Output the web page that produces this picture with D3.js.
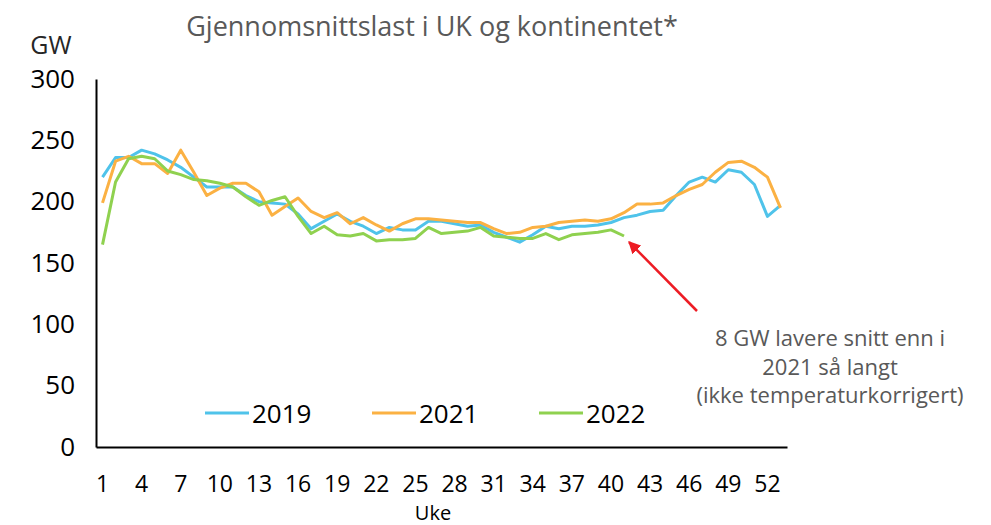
<!DOCTYPE html>
<html>
<head>
<meta charset="utf-8">
<script src="https://cdn.jsdelivr.net/npm/d3@7"></script>
<style>
    body { margin: 0; background: #fff; }
    svg { display: block; font-family: "Open Sans", "Noto Sans", sans-serif; }
</style>
</head>
<body>
<svg id="chart"></svg>
<script>
// Weeks 1..53
const weeks = d3.range(1, 54);
const tickWeeks = [1, 4, 7, 10, 13, 16, 19, 22, 25, 28, 31, 34, 37, 40, 43, 46, 49, 52];
const yTicks = [0, 50, 100, 150, 200, 250, 300];

const load2019 = [220, 236, 236, 242, 239, 234, 228, 220, 212, 212, 212, 205, 200, 199, 198, 190,
    178, 184, 190, 184, 180, 174, 179, 177, 177, 184, 184, 182, 180, 181, 175, 171, 167, 173, 180,
    178, 180, 180, 181, 183, 187, 189, 192, 193, 205, 216, 220, 216, 226, 224, 214, 188, 197];
const load2021 = [199, 233, 237, 231, 231, 223, 242, 224, 205, 211, 215, 215, 208, 189, 196, 203,
    192, 187, 191, 182, 187, 181, 176, 182, 186, 186, 185, 184, 183, 183, 178, 174, 175, 179, 180,
    183, 184, 185, 184, 186, 191, 198, 198, 199, 205, 210, 214, 224, 232, 233, 228, 220, 195];
const load2022 = [165, 216, 235, 237, 235, 225, 222, 218, 217, 215, 212, 204, 197, 201, 204, 188,
    174, 180, 173, 172, 174, 168, 169, 169, 170, 179, 174, 175, 176, 179, 172, 171, 170, 170, 174,
    169, 173, 174, 175, 177, 172];

const series = [
    { name: "2019", values: load2019, color: "#4fc3ea" },
    { name: "2021", values: load2021, color: "#fbb143" },
    { name: "2022", values: load2022, color: "#8fd14f" }
];

const width = 991, height = 525;
const margin = { left: 96, right: 204, top: 79, bottom: 78 };
const svg = d3.select("#chart").attr("width", width).attr("height", height);

const x = d3.scaleBand().domain(weeks).range([margin.left, width - margin.right]);
const y = d3.scaleLinear().domain([0, 300]).range([height - margin.bottom, margin.top]);
const cx = w => x(w) + x.bandwidth() / 2;

// Title
svg.append("text")
    .attr("x", 432).attr("y", 36)
    .attr("text-anchor", "middle")
    .attr("fill", "#595959")
    .attr("font-size", "27px")
    .text("Gjennomsnittslast i UK og kontinentet*");

// Unit label
svg.append("text")
    .attr("x", 51).attr("y", 54)
    .attr("text-anchor", "middle")
    .attr("fill", "#262626")
    .attr("font-size", "25px")
    .text("GW");

// Y axis
const yAxis = svg.append("g")
    .attr("transform", `translate(${margin.left},0)`)
    .call(d3.axisLeft(y).tickValues(yTicks).tickSize(0).tickPadding(21));
yAxis.select(".domain").attr("stroke", "#000").attr("stroke-width", 2);
yAxis.selectAll("text").attr("font-size", "26px").attr("fill", "#000").attr("font-family", "Open Sans");

// X axis
const xAxis = svg.append("g")
    .attr("transform", `translate(0,${height - margin.bottom})`)
    .call(d3.axisBottom(x).tickValues(tickWeeks).tickSize(0).tickPadding(29));
xAxis.select(".domain").attr("stroke", "#000").attr("stroke-width", 2);
xAxis.selectAll("text").attr("font-size", "23px").attr("fill", "#000").attr("font-family", "Open Sans");

svg.append("text")
    .attr("x", 433).attr("y", 519.5)
    .attr("text-anchor", "middle")
    .attr("fill", "#000")
    .attr("font-size", "20px")
    .text("Uke");

// Lines
const line = d3.line()
    .x((d, i) => cx(weeks[i]))
    .y(d => y(d));

series.forEach(s => {
    svg.append("path")
        .datum(s.values)
        .attr("fill", "none")
        .attr("stroke", s.color)
        .attr("stroke-width", 3)
        .attr("stroke-linejoin", "round")
        .attr("d", line);
});

// Legend
const legend = svg.append("g").attr("transform", "translate(205,413)");
series.forEach((s, i) => {
    const g = legend.append("g").attr("transform", `translate(${i * 167},0)`);
    g.append("line")
        .attr("x1", 0).attr("x2", 44)
        .attr("y1", 0).attr("y2", 0)
        .attr("stroke", s.color)
        .attr("stroke-width", 3);
    g.append("text")
        .attr("x", 47).attr("y", 10)
        .attr("fill", "#000")
        .attr("font-size", "26px")
        .text(s.name);
});

// Annotation
const last = load2022.length;
const tip = [cx(last) + 5, y(load2022[last - 1]) + 6];
const tail = [697, 311];

svg.append("defs").append("marker")
    .attr("id", "arrow")
    .attr("viewBox", "0 0 10 10")
    .attr("refX", 9).attr("refY", 5)
    .attr("markerWidth", 5).attr("markerHeight", 5)
    .attr("orient", "auto")
    .append("path")
    .attr("d", "M0,0 L10,5 L0,10 z")
    .attr("fill", "#ed1c24");

svg.append("line")
    .attr("x1", tail[0]).attr("y1", tail[1])
    .attr("x2", tip[0]).attr("y2", tip[1])
    .attr("stroke", "#ed1c24")
    .attr("stroke-width", 2.5)
    .attr("marker-end", "url(#arrow)");

const noteLines = ["8 GW lavere snitt enn i", "2021 så langt", "(ikke temperaturkorrigert)"];
svg.append("text")
    .attr("text-anchor", "middle")
    .attr("fill", "#595959")
    .attr("font-size", "22px")
    .selectAll("tspan")
    .data(noteLines)
    .join("tspan")
    .attr("x", 830)
    .attr("y", (d, i) => 346 + i * 28.5)
    .text(d => d);
</script>
</body>
</html>
